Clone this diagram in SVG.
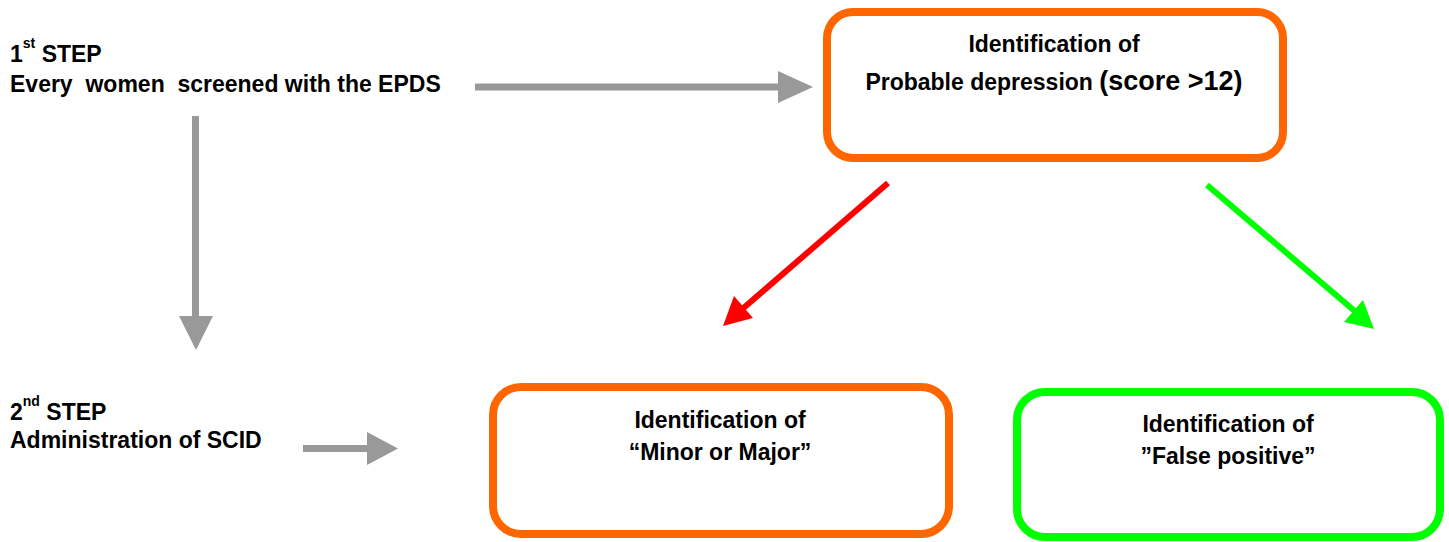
<svg xmlns="http://www.w3.org/2000/svg" width="1449" height="542" viewBox="0 0 1449 542">
<style>
  text { font-family: "Liberation Sans", Arial, sans-serif; font-weight: bold; font-size: 23px; fill: #000; }
  .mid { text-anchor: middle; }
  .sup { font-size: 14px; }
  .big { font-size: 27px; }
  .box { fill: #fff; stroke-width: 8; }
  .orange { stroke: #FF6600; }
  .green { stroke: #00FF00; }
  .gray { stroke: #999999; stroke-width: 7; fill: none; }
  .grayhead { fill: #999999; }
  .red { stroke: #FF0000; stroke-width: 6; fill: none; }
  .redhead { fill: #FF0000; }
  .grn { stroke: #00FF00; stroke-width: 6; fill: none; }
  .grnhead { fill: #00FF00; }
</style>
<rect width="1449" height="542" fill="#fff"/>

<g id="step1">
  <text x="10" y="62">1<tspan class="sup" dy="-14">st</tspan><tspan dy="14"> STEP</tspan></text>
  <text x="10" y="92" xml:space="preserve">Every  women  screened with the EPDS</text>
</g>

<g id="step2">
  <text x="10" y="420">2<tspan class="sup" dy="-14">nd</tspan><tspan dy="14"> STEP</tspan></text>
  <text x="10" y="448">Administration of SCID</text>
</g>

<g id="probable">
  <rect class="box orange" x="827" y="12" width="456" height="146" rx="26" ry="26"/>
  <text class="mid" x="1054" y="52">Identification of</text>
  <text class="mid" x="1054" y="90">Probable depression <tspan class="big">(score &gt;12)</tspan></text>
</g>

<g id="minormajor">
  <rect class="box orange" x="493" y="387" width="456" height="147" rx="28" ry="28"/>
  <text class="mid" x="720" y="428">Identification of</text>
  <text class="mid" x="720" y="460">“Minor or Major”</text>
</g>

<g id="falsepositive">
  <rect class="box green" x="1017" y="392" width="423" height="145" rx="28" ry="28"/>
  <text class="mid" x="1228" y="432">Identification of</text>
  <text class="mid" x="1228" y="464">”False positive”</text>
</g>

<g id="connectors">
  <line class="gray" x1="475" y1="87" x2="780" y2="87"/>
  <polygon class="grayhead" points="778,71 813,87 778,103"/>
  <line class="gray" x1="195.5" y1="116" x2="195.5" y2="318"/>
  <polygon class="grayhead" points="179,316 213,316 196,350"/>
  <line class="gray" x1="303" y1="448.5" x2="369" y2="448.5"/>
  <polygon class="grayhead" points="367,432 398,448.5 367,465"/>
  <line class="red" x1="888" y1="183" x2="740" y2="311"/>
  <polygon class="redhead" points="723,326 734,296 753,318"/>
  <line class="grn" x1="1207" y1="185" x2="1357" y2="313"/>
  <polygon class="grnhead" points="1374,329 1363,300 1344,322"/>
</g>
</svg>
